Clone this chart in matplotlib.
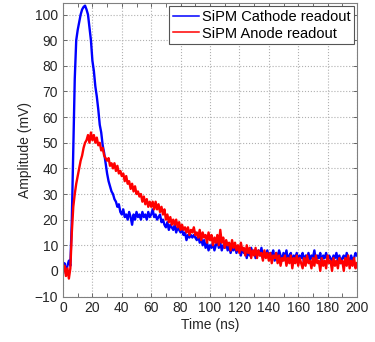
import matplotlib
matplotlib.use("Agg")
import matplotlib.pyplot as plt
import numpy as np
from matplotlib.ticker import MultipleLocator

plt.rcParams['font.family'] = ['Liberation Sans', 'DejaVu Sans']

# time axis (ns), one sample per ns
time_ns = np.arange(0, 201)

# SiPM cathode readout (mV)
cathode_mv = [
    1, 3, -1, 2, 4, 2, 20, 48, 75, 90,
    94, 97, 100, 102, 103, 103.5, 102, 100, 95, 90,
    82, 78, 72, 68, 63, 57, 54, 49, 46, 42,
    38, 35, 33, 31, 30, 28, 27, 25, 26, 23,
    22, 24, 21, 22, 20, 23, 21, 18, 22, 20,
    23, 21, 22, 20, 23, 21, 22, 20, 23, 21,
    22, 24, 21, 22, 20, 21, 22, 19, 20, 18,
    17, 19, 16, 18, 17, 16, 18, 15, 17, 16,
    15, 16, 14, 15, 12, 14, 13, 14, 13, 14,
    13, 12, 14, 11, 13, 10, 12, 9, 11, 8,
    10, 9, 11, 8, 10, 12, 9, 11, 8, 10,
    9, 11, 8, 10, 7, 9, 8, 10, 7, 9,
    8, 6, 9, 7, 8, 5, 8, 6, 9, 7,
    8, 5, 7, 8, 6, 9, 5, 7, 6, 8,
    5, 7, 6, 8, 4, 7, 5, 8, 6, 4,
    7, 5, 8, 4, 6, 7, 3, 6, 5, 7,
    4, 6, 5, 7, 3, 6, 5, 7, 4, 6,
    5, 8, 4, 6, 5, 7, 3, 6, 5, 7,
    4, 6, 5, 3, 6, 5, 7, 4, 6, 3,
    5, 6, 4, 7, 5, 3, 6, 4, 5, 7, 6,
]

# SiPM anode readout (mV)
anode_mv = [
    0, 2, -2, 1, -3, 1, 15, 25, 30, 34,
    37, 40, 43, 45, 48, 50, 51, 53, 50, 54,
    51, 53, 50, 52, 49, 50, 47, 48, 45, 44,
    43, 44, 41, 42, 40, 42, 39, 41, 38, 39,
    37, 38, 35, 37, 34, 35, 32, 34, 31, 33,
    30, 31, 29, 30, 27, 29, 26, 28, 25, 27,
    25, 27, 24, 27, 24, 26, 23, 25, 22, 24,
    20, 22, 19, 21, 18, 20, 18, 20, 17, 19,
    16, 18, 16, 17, 15, 17, 14, 16, 15, 17,
    14, 15, 13, 16, 12, 15, 13, 14, 11, 15,
    12, 14, 10, 13, 11, 14, 10, 16, 11, 13,
    9, 12, 10, 11, 8, 12, 9, 11, 8, 10,
    7, 11, 8, 9, 6, 10, 7, 9, 5, 8,
    6, 9, 5, 8, 6, 7, 4, 8, 5, 7,
    4, 7, 3, 6, 5, 7, 3, 6, 2, 5,
    4, 6, 2, 5, 3, 6, 1, 5, 3, 6,
    2, 5, 3, 1, 5, 2, 6, 3, 4, 1,
    5, 2, 6, 3, 4, 0, 5, 2, 4, 1,
    6, 3, 4, 0, 5, 2, 4, 1, 5, 3,
    4, 0, 5, 2, 6, 1, 4, 2, 5, 1, 3,
]

labels = ['SiPM Cathode readout', 'SiPM Anode readout']

fig = plt.figure(figsize=(3.75, 3.42), dpi=100)
ax = fig.add_axes([0.168, 0.133, 0.784, 0.858])

ax.plot(time_ns, cathode_mv, color='#0000ff', lw=1.7, label=labels[0])
ax.plot(time_ns, anode_mv, color='#ff0000', lw=1.7, label=labels[1])

ax.set_xlim(0, 200)
ax.set_ylim(-10, 104.5)
ax.xaxis.set_major_locator(MultipleLocator(20))
ax.xaxis.set_minor_locator(MultipleLocator(10))
ax.yaxis.set_major_locator(MultipleLocator(10))

ax.grid(True, which='major', ls=':', color='#b0b0b0', lw=0.8)
ax.tick_params(which='both', direction='in', top=True, right=True,
               length=3, width=0.6, color='#555555', labelsize=10,
               labelcolor='#262626')
for s in ax.spines.values():
    s.set_color('#808080')
    s.set_linewidth(0.8)

ax.set_xlabel('Time (ns)', fontsize=10, color='#262626', labelpad=2)
ax.set_ylabel('Amplitude (mV)', fontsize=10, color='#262626', labelpad=2)

leg = ax.legend(loc='upper right', fontsize=10.5, fancybox=False, framealpha=1,
                edgecolor='#555555', handlelength=1.8, handletextpad=0.2,
                borderpad=0.25, labelspacing=0.2, borderaxespad=0.2)
leg.get_frame().set_linewidth(0.8)
for line in leg.get_lines():
    line.set_linewidth(1.1)

fig.savefig('out.png', dpi=100)
